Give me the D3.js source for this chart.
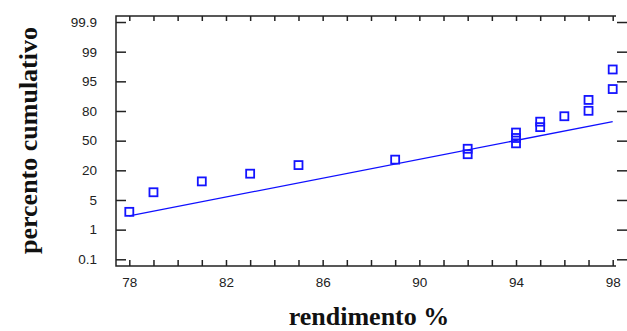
<!DOCTYPE html>
<html>
<head>
<meta charset="utf-8">
<script src="https://cdn.jsdelivr.net/npm/d3@7"></script>
<style>
  body { margin: 0; background: #fff; }
  .tick text { font-family: "Liberation Sans", Arial, sans-serif; font-size: 13.5px; fill: #222; }
  .axlabel { font-family: "Liberation Serif", "Times New Roman", serif; font-weight: bold; font-size: 26px; fill: #111; }
</style>
</head>
<body>
<div id="chart"></div>
<script>
// observed rendimento values (x) and their cumulative percent (y)
var xVals = [78, 79, 81, 83, 85, 89, 92, 92, 94, 94, 94, 95, 95, 96, 97, 97, 98, 98];
var pctVals = [3.4, 8.9, 14.4, 18.3, 25.3, 30.8, 36.3, 41.8, 47.3, 52.7, 58.2, 63.7, 69.2, 74.7, 80.1, 85.6, 91.1, 96.6];

// fitted reference line (end points)
var fitX = [78, 98];
var fitPct = [2.85, 69.3];

var yTicks = [0.1, 1, 5, 20, 50, 80, 95, 99, 99.9];
var xTicks = d3.range(78, 99);
var xTickLabels = [78, 82, 86, 90, 94, 98];

var W = 627, H = 331;
var margin = {left: 116, top: 16};
var w = 511, h = 250;
var frameRight = 500;   // top/bottom lines stop here

var svg = d3.select("#chart").append("svg")
  .attr("width", W)
  .attr("height", H);

svg.append("rect").attr("width", W).attr("height", H).attr("fill", "#fff");

var g = svg.append("g")
  .attr("transform", "translate(" + margin.left + "," + margin.top + ")");

var x = d3.scaleLinear().domain([78, 98]).range([13.3, 496.7]);

// probability axis: labels are equally spaced, piecewise linear between them
var step = 29.66;
var y = d3.scaleLinear()
  .domain(yTicks)
  .range(yTicks.map(function(d, i) { return 243.3 - i * step; }));

/* axes */
var axisColor = "#222";

var axBottom = g.append("g")
  .attr("transform", "translate(0," + h + ")")
  .call(d3.axisBottom(x).tickValues(xTicks).tickSize(-6).tickPadding(11)
    .tickFormat(function(d) { return xTickLabels.indexOf(d) >= 0 ? d : ""; }));

var axTop = g.append("g")
  .call(d3.axisTop(x).tickValues(xTicks).tickSize(-5).tickFormat(""));

var axLeft = g.append("g")
  .call(d3.axisLeft(y).tickValues(yTicks).tickSize(-10).tickPadding(19)
    .tickFormat(function(d) { return String(d); }));

var axRight = g.append("g")
  .attr("transform", "translate(" + w + ",0)")
  .call(d3.axisRight(y).tickValues(yTicks).tickSize(-10).tickFormat(""));

[axBottom, axTop, axLeft, axRight].forEach(function(a) {
  a.select(".domain").remove();
  a.selectAll(".tick line").attr("stroke", axisColor).attr("stroke-width", 1.5);
});

// frame
g.append("path")
  .attr("d", "M" + frameRight + ",0H0V" + h + "H" + frameRight)
  .attr("fill", "none")
  .attr("stroke", axisColor)
  .attr("stroke-width", 1.5);

/* fitted line */
var line = d3.line()
  .x(function(d) { return x(d[0]); })
  .y(function(d) { return y(d[1]); });

g.append("path")
  .datum(fitX.map(function(d, i) { return [d, fitPct[i]]; }))
  .attr("d", line)
  .attr("fill", "none")
  .attr("stroke", "#1010ff")
  .attr("stroke-width", 1.3);

/* points */
var s = 8;
g.selectAll("rect.pt")
  .data(xVals.map(function(d, i) { return [d, pctVals[i]]; }))
  .enter().append("rect")
  .attr("class", "pt")
  .attr("x", function(d) { return x(d[0]) - s / 2; })
  .attr("y", function(d) { return y(d[1]) - s / 2; })
  .attr("width", s)
  .attr("height", s)
  .attr("fill", "none")
  .attr("stroke", "#1414ff")
  .attr("stroke-width", 1.8);

/* axis titles */
svg.append("text")
  .attr("class", "axlabel")
  .attr("text-anchor", "middle")
  .attr("transform", "translate(36.5,140.5) rotate(-90)")
  .text("percento cumulativo");

svg.append("text")
  .attr("class", "axlabel")
  .attr("text-anchor", "middle")
  .attr("x", 369)
  .attr("y", 325)
  .text("rendimento %");
</script>
</body>
</html>
